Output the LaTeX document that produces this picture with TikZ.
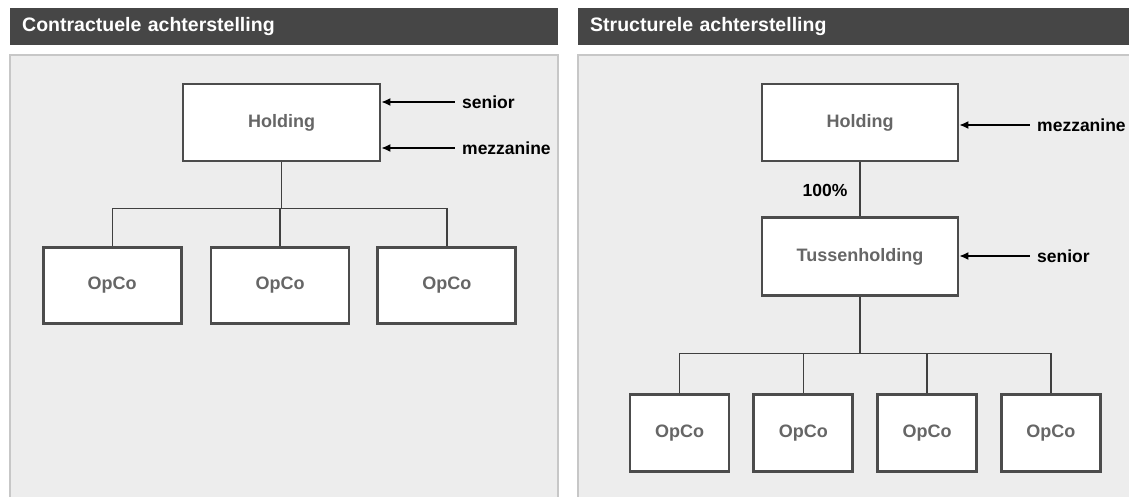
\documentclass[tikz,border=0pt]{standalone}
\usepackage{fontspec}
\setmainfont{Liberation Sans}
\usepackage{tikz}
\usetikzlibrary{arrows.meta}
\usetikzlibrary{positioning}
\definecolor{titlegray}{rgb}{0.275,0.275,0.275}
\definecolor{panelgray}{rgb}{0.929,0.929,0.929}
\definecolor{paneledge}{rgb}{0.78,0.78,0.78}
\definecolor{boxedge}{rgb}{0.3,0.3,0.3}
\definecolor{boxtext}{rgb}{0.4,0.4,0.4}
\tikzset{%
  titlebar/.style={rectangle, fill=titlegray, text=white, anchor=north west, inner xsep=12pt, inner ysep=0pt,
                   minimum height=37pt, align=left, font=\bfseries\fontsize{19.5}{22}\selectfont},
  panel/.style={draw=paneledge, fill=panelgray, line width=1.2pt},
  entity/.style={rectangle, draw=boxedge, line width=2.8pt, fill=white, text=boxtext, inner sep=0pt,
                 font=\bfseries\fontsize{18}{21}\selectfont},
  opco/.style={entity, minimum width=138pt, minimum height=76pt},
  smallopco/.style={entity, minimum width=99pt, minimum height=77pt},
  link/.style={draw=black!75, line width=1.4pt},
  debt/.style={{Latex[length=9pt,width=8pt]}-, line width=1.4pt},
  debtlabel/.style={anchor=west, inner xsep=7pt, font=\bfseries\fontsize{17.5}{20}\selectfont}
}

\begin{document}
\begin{tikzpicture}[x=1pt, y=-1pt]
        \useasboundingbox (0,0) rectangle (1129,496);

        % left: contractual
        \node [titlebar, text width=524pt] (ltitle) at (10,8) {Contractuele achterstelling};
        \draw [panel] (10,55) rectangle (558,510);

        \node [entity, minimum width=197pt, minimum height=77pt] (lhold) at (281.5,122.5) {Holding};
        \node [opco]                        (lop2) at (280,285.5) {OpCo};
        \node [opco, left=27pt of lop2]     (lop1) {OpCo};
        \node [opco, right=26pt of lop2]    (lop3) {OpCo};
        \coordinate [below=46pt of lhold.south] (lbus);

        \node [debtlabel] (lsen) at (455,102) {senior};
        \node [debtlabel] (lmez) at (455,148) {mezzanine};

        \draw [link] (lhold.south) -- (lbus);
        \draw [link] (lop1.north) |- (lbus) -| (lop3.north);
        \draw [link] (lop2.north) -- (lop2.north |- lbus);
        \draw [debt] (lhold.east |- lsen.west) -- (lsen.west);
        \draw [debt] (lhold.east |- lmez.west) -- (lmez.west);

        % right: structural
        \node [titlebar, text width=560pt] (rtitle) at (578,8) {Structurele achterstelling};
        \draw [panel] (578,55) rectangle (1140,510);

        \node [entity, minimum width=196pt, minimum height=77pt] (rhold) at (860,122.5) {Holding};
        \node [entity, minimum width=196pt, minimum height=78pt, below=54pt of rhold] (rtus) {Tussenholding};
        \node [font=\bfseries\fontsize{17.5}{20}\selectfont] (rpct) at (825,190) {100\%};
        \node [smallopco]                     (rop1) at (679.5,433) {OpCo};
        \node [smallopco, right=22pt of rop1] (rop2) {OpCo};
        \node [smallopco, right=22pt of rop2] (rop3) {OpCo};
        \node [smallopco, right=22pt of rop3] (rop4) {OpCo};
        \coordinate [below=56pt of rtus.south] (rbus);

        \node [debtlabel] (rmez) at (1030,125) {mezzanine};
        \node [debtlabel] (rsen) at (1030,256) {senior};

        \draw [link] (rhold.south) -- (rtus.north);
        \draw [link] (rtus.south) -- (rbus);
        \draw [link] (rop1.north) |- (rbus) -| (rop4.north);
        \draw [link] (rop2.north) -- (rop2.north |- rbus);
        \draw [link] (rop3.north) -- (rop3.north |- rbus);
        \draw [debt] (rhold.east |- rmez.west) -- (rmez.west);
        \draw [debt] (rtus.east |- rsen.west) -- (rsen.west);
    \end{tikzpicture}
\end{document}
